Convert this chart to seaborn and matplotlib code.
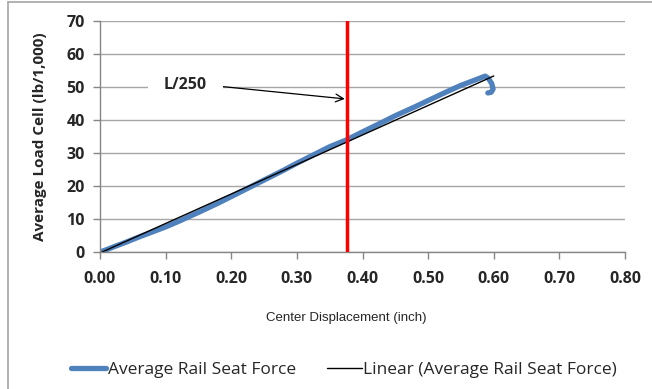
import matplotlib
matplotlib.use('Agg')
import matplotlib.pyplot as plt
from matplotlib.lines import Line2D
import seaborn as sns
import pandas as pd
import numpy as np

disp = [0.00, 0.01, 0.02, 0.04, 0.06, 0.08, 0.10, 0.12, 0.15, 0.18, 0.20, 0.22,
        0.25, 0.28, 0.30, 0.32, 0.35, 0.376, 0.40, 0.43, 0.45, 0.48, 0.50, 0.53,
        0.55, 0.57, 0.587, 0.592, 0.597, 0.599, 0.596, 0.591]
load = [0.0, 0.7, 1.5, 3.0, 4.6, 6.1, 7.6, 9.3, 12.0, 14.8, 16.8, 18.8,
        21.8, 24.8, 26.9, 28.9, 31.9, 34.0, 36.4, 39.3, 41.3, 44.0, 45.9, 48.7,
        50.5, 52.0, 53.3, 52.6, 51.0, 49.4, 48.4, 48.2]

# Excel linear trendline (slope, intercept)
trend_slope = 89.4
trend_icpt = -0.3
trend_x = [0.0, 0.60]

l250 = 0.376

x_ticks = [0.0, 0.1, 0.2, 0.3, 0.4, 0.5, 0.6, 0.7, 0.8]
y_ticks = [0, 10, 20, 30, 40, 50, 60, 70]

df = pd.DataFrame({'disp': disp, 'load': load})
tr = pd.DataFrame({'disp': trend_x,
                   'load': [trend_slope * v + trend_icpt for v in trend_x]})

sns.set_style('white')
plt.rcParams['font.family'] = ['Open Sans', 'DejaVu Sans']

fig = plt.figure(figsize=(6.52, 3.89), dpi=100)
ax = fig.add_axes([100 / 652, 1 - 252 / 389, 525 / 652, 231 / 389])

sns.lineplot(data=df, x='disp', y='load', sort=False, color='#4F81BD', lw=3.8,
             solid_capstyle='round', ax=ax, label='Average Rail Seat Force')
sns.lineplot(data=tr, x='disp', y='load', color='black', lw=1,
             ax=ax, label='Linear (Average Rail Seat Force)')
ax.axvline(l250, color='#FF0000', lw=2.5, zorder=5)

ax.set_xlim(0, 0.8)
ax.set_ylim(0, 70)
ax.set_xticks(x_ticks)
ax.set_yticks(y_ticks)
ax.set_xticklabels([f'{v:.2f}' for v in x_ticks], fontweight='bold', fontsize=11.5)
ax.set_yticklabels([str(v) for v in y_ticks], fontweight='bold', fontsize=11.5)
ax.yaxis.grid(True, color='#A6A6A6', lw=1)
ax.set_axisbelow(True)
for s in ['top', 'right']:
    ax.spines[s].set_visible(False)
for s in ['left', 'bottom']:
    ax.spines[s].set_color('#868686')
    ax.spines[s].set_linewidth(1)
ax.tick_params(axis='both', direction='out', length=5, width=1, color='#868686',
               bottom=True, left=True, pad=6)
ax.tick_params(axis='x', pad=9)

ax.set_xlabel('Center Displacement (inch)', family='Liberation Sans', fontsize=9.5)
ax.xaxis.set_label_coords(0.47, -0.26)
ax.set_ylabel('Average Load Cell (lb/1,000)', fontweight='bold', fontsize=11)
ax.yaxis.set_label_coords(-0.1, 0.5)

ax.annotate('L/250', xy=(0.373, 46.4), xytext=(0.13, 50.6),
            fontsize=11.5, fontweight='bold', ha='center', va='center',
            bbox=dict(boxstyle='square,pad=1.0', fc='white', ec='none'),
            arrowprops=dict(arrowstyle='->', color='black', lw=0.9,
                            shrinkA=0, shrinkB=0, mutation_scale=14,
                            relpos=(1.0, 0.5)))

ax.legend(loc='upper center', bbox_to_anchor=(0.465, -0.41), ncol=2, frameon=False,
          fontsize=12.5, handlelength=2.0, handletextpad=0.1, columnspacing=1.8)

fig.add_artist(Line2D([8 / 652, 8 / 652], [0, 1 - 2 / 389], color='#A6A6A6', lw=1.2))
fig.add_artist(Line2D([8 / 652, 1], [1 - 2 / 389, 1 - 2 / 389], color='#A6A6A6', lw=1.2))

fig.savefig('out.png', dpi=100)
